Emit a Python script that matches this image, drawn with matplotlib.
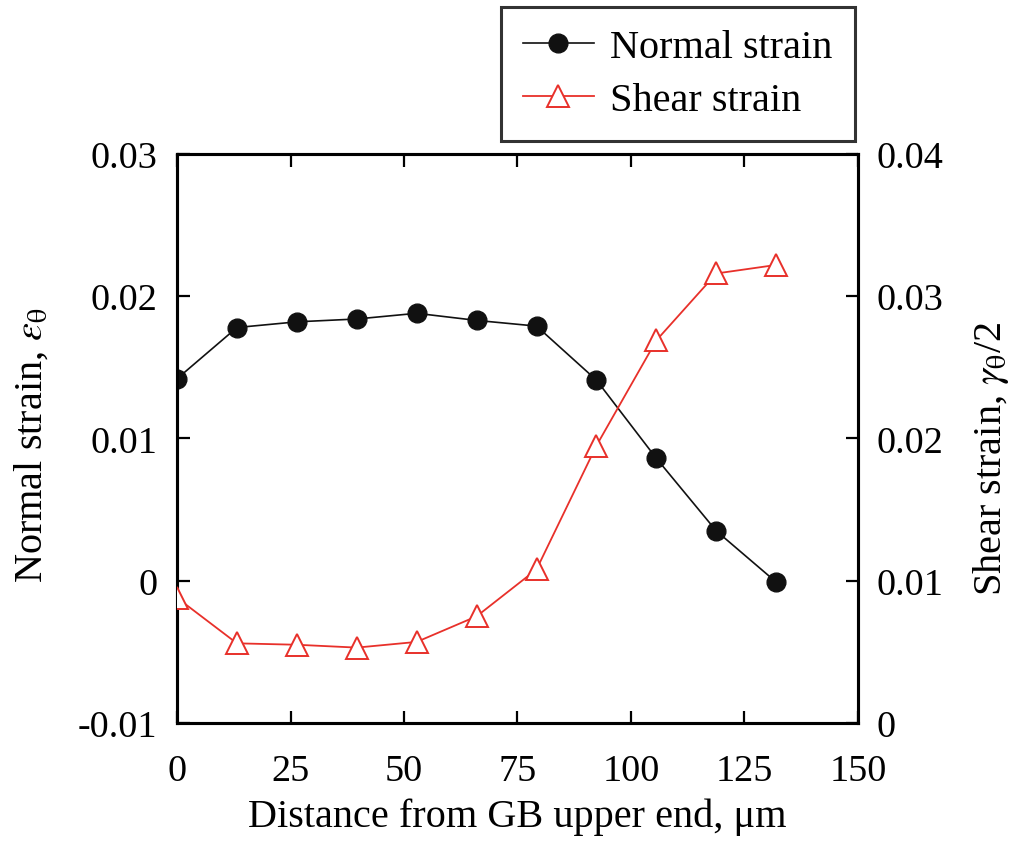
import matplotlib
matplotlib.use("Agg")
import matplotlib.pyplot as plt
from matplotlib.lines import Line2D

# Data
dist = [0, 13.2, 26.4, 39.6, 52.8, 66.0, 79.2, 92.4, 105.6, 118.8, 132.0]
normal_strain = [0.0142, 0.0178, 0.0182, 0.0184, 0.0188, 0.0183, 0.0179,
                 0.0141, 0.0086, 0.0035, -0.0001]
shear_strain = [0.0088, 0.0056, 0.0055, 0.0053, 0.0057, 0.0075, 0.0108,
                0.0195, 0.0269, 0.0316, 0.0322]

x_ticks = [0, 25, 50, 75, 100, 125, 150]
left_ticks = [-0.01, 0, 0.01, 0.02, 0.03]
left_labels = ["-0.01", "0", "0.01", "0.02", "0.03"]
right_ticks = [0, 0.01, 0.02, 0.03, 0.04]
right_labels = ["0", "0.01", "0.02", "0.03", "0.04"]

plt.rcParams['font.family'] = ['Liberation Serif', 'DejaVu Serif']
plt.rcParams['mathtext.fontset'] = 'stix'
fs = 27.5   # tick labels
lfs = 29    # axis labels and legend

fig = plt.figure(figsize=(10.22, 8.45), dpi=100)
ax = fig.add_axes([0.1732, 0.1432, 0.6663, 0.6734])
ax2 = ax.twinx()

ax.plot(dist, normal_strain, color='#111111', lw=1.2, marker='o', ms=13.5,
        mfc='#111111', mec='#111111', zorder=3)
ax2.plot(dist, shear_strain, color='#e8302a', lw=1.3, marker='^', ms=16,
         mfc='white', mec='#e8302a', mew=1.4, zorder=3)

ax.set_xlim(0, 150)
ax.set_ylim(-0.01, 0.03)
ax2.set_ylim(0, 0.04)

ax.set_xticks(x_ticks)
ax.set_xticklabels([str(t) for t in x_ticks])
ax.set_yticks(left_ticks)
ax.set_yticklabels(left_labels)
ax2.set_yticks(right_ticks)
ax2.set_yticklabels(right_labels)

ax.tick_params(axis='x', direction='in', length=9, width=1.6, labelsize=fs,
               pad=22, top=True)
ax.tick_params(axis='y', direction='in', length=9, width=1.6, labelsize=fs,
               pad=14, right=False)
ax2.tick_params(axis='y', direction='in', length=9, width=1.6, labelsize=fs,
                pad=13)

for a in (ax, ax2):
    for s in a.spines.values():
        s.set_linewidth(2.2)

ax.set_xlabel("Distance from GB upper end, \u03bcm", fontsize=lfs, labelpad=7)
ax.set_ylabel(r"Normal strain, $\varepsilon_\mathrm{θ}$", fontsize=lfs,
              labelpad=20)
ax2.set_ylabel(r"Shear strain, $\gamma_\mathrm{θ}$/2", fontsize=lfs,
               labelpad=20)
ax.yaxis.label.set_y(0.49)
ax2.yaxis.label.set_y(0.466)

handles = [
    Line2D([], [], color='#111111', lw=1.2, marker='o', ms=13.5,
           mfc='#111111', mec='#111111'),
    Line2D([], [], color='#e8302a', lw=1.3, marker='^', ms=16,
           mfc='white', mec='#e8302a', mew=1.4),
]
leg = fig.legend(handles, ["Normal strain", "Shear strain"],
                 loc='upper right', bbox_to_anchor=(0.8366, 0.9905),
                 borderaxespad=0, fontsize=lfs, frameon=True, fancybox=False,
                 handlelength=1.75, borderpad=0.55, labelspacing=0.38,
                 handletextpad=0.42)
leg.get_frame().set_edgecolor('black')
leg.get_frame().set_linewidth(2.2)

fig.savefig("out.png", dpi=100)
